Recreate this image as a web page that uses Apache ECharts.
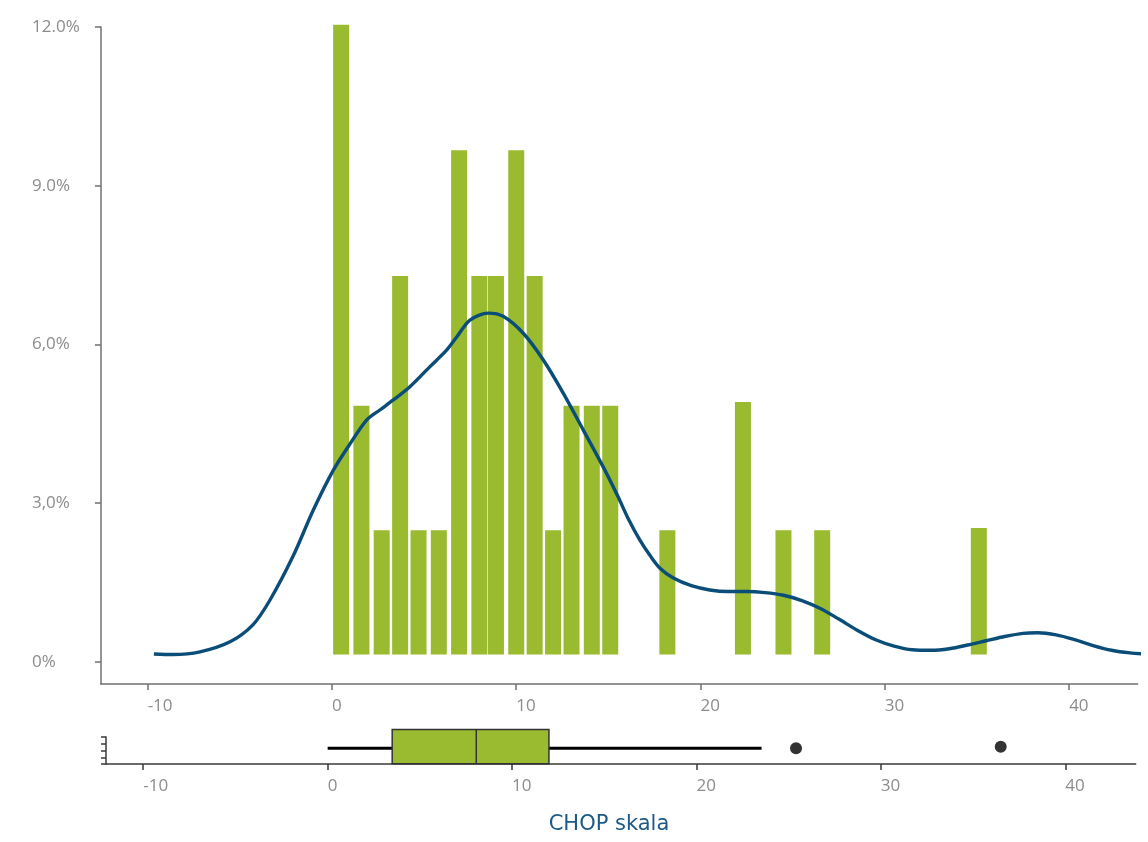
<!DOCTYPE html>
<html>
<head>
<meta charset="utf-8">
<script src="https://cdn.jsdelivr.net/npm/echarts@6/dist/echarts.min.js"></script>
<style>
  html, body { margin: 0; padding: 0; background: #ffffff; }
  #chart { width: 1148px; height: 842px; }
</style>
</head>
<body>
<div id="chart"></div>
<script>
// ---- data ----
const xTicks = [-10, 0, 10, 20, 30, 40];
const yTicks = [0, 3, 6, 9, 12];
const yTickLabels = ['0%', '3,0%', '6,0%', '9.0%', '12.0%'];

// histogram bars (bin centre, share in %)
const binCenters = [0.5, 1.6, 2.7, 3.7, 4.7, 5.8, 6.9, 8.0, 8.9, 10.0, 11.0, 12.0, 13.0, 14.1, 15.1, 18.2, 22.3, 24.5, 26.6, 35.1];
const binShares  = [11.9, 4.7, 2.35, 7.15, 2.35, 2.35, 9.53, 7.15, 7.15, 9.53, 7.15, 2.35, 4.7, 4.7, 4.7, 2.35, 4.77, 2.35, 2.35, 2.39];

// density curve
const kdeX = [-9.66, -8.63, -7.16, -5.53, -4.29, -3.36, -2.12, -1.01, 0.07, 0.98, 1.88, 2.6, 3.33, 4.23, 5.32, 6.22, 6.77, 7.49, 8.48, 9.29, 10.38, 11.46, 12.55, 13.64, 14.71, 15.5, 16.1, 16.71, 17.3, 17.8, 18.5, 19.5, 20.5, 21.5, 22.5, 23.5, 24.5, 25.5, 26.5, 27.5, 28.5, 29.5, 30.5, 31.5, 32.5, 33.5, 34.5, 35.5, 36.5, 37.5, 38.3, 39.3, 40.3, 41.3, 42.3, 43.3, 44.2];
const kdeY = [0.01, 0.0, 0.05, 0.24, 0.56, 1.03, 1.85, 2.73, 3.48, 3.98, 4.43, 4.62, 4.81, 5.06, 5.44, 5.75, 6.0, 6.32, 6.45, 6.39, 6.07, 5.57, 4.94, 4.24, 3.55, 3.0, 2.55, 2.16, 1.85, 1.63, 1.45, 1.3, 1.22, 1.19, 1.19, 1.17, 1.12, 1.02, 0.87, 0.67, 0.46, 0.28, 0.16, 0.09, 0.08, 0.11, 0.18, 0.26, 0.34, 0.40, 0.41, 0.37, 0.28, 0.17, 0.08, 0.03, 0.01];

// box plot statistics
const boxStats = [0, 3.5, 8.06, 12.0, 23.53]; // lower whisker, Q1, median, Q3, upper whisker
const outlierX = [25.4, 36.5];
const outlierY = [2.35, 2.55];

const xAxisTitle = 'CHOP skala';

// ---- chart ----
const GREEN = '#9aba30';
const BLUE = '#0b4d79';
const LABEL_GREY = '#8c8c8c';
const FONT = 'Open Sans';

const chart = echarts.init(document.getElementById('chart'), null, { renderer: 'canvas' });

const bars = binCenters.map((x, i) => [x, binShares[i]]);
const curve = kdeX.map((x, i) => [x, kdeY[i]]);
const outliers = outlierX.map((x, i) => [x, outlierY[i]]);

const topAxisLine = { show: true, onZero: false, lineStyle: { color: '#707070', width: 1.5 } };
const botAxisLine = { show: true, onZero: false, lineStyle: { color: '#3a3a3a', width: 1.5 } };

const option = {
  animation: false,
  backgroundColor: '#ffffff',
  grid: [
    { left: 101, right: 10.3, top: 27, height: 657 },
    { left: 106, right: 12.3, top: 737, height: 27 }
  ],
  xAxis: [
    {
      gridIndex: 0, type: 'value', min: -12.53, max: 43.72,
      axisLine: topAxisLine,
      axisTick: { show: true, length: 6, customValues: xTicks, lineStyle: { color: '#707070', width: 1.5 } },
      axisLabel: { customValues: xTicks, align: 'left', margin: 14, color: LABEL_GREY, fontSize: 17, fontFamily: FONT },
      splitLine: { show: false }
    },
    {
      gridIndex: 1, type: 'value', min: -12.02, max: 43.82,
      axisLine: botAxisLine,
      axisTick: { show: true, length: 6, customValues: xTicks, lineStyle: { color: '#3a3a3a', width: 1.5 } },
      axisLabel: { customValues: xTicks, align: 'left', margin: 14, color: LABEL_GREY, fontSize: 17, fontFamily: FONT },
      splitLine: { show: false }
    }
  ],
  yAxis: [
    {
      gridIndex: 0, type: 'value', min: -0.416, max: 12,
      axisLine: topAxisLine,
      axisTick: { show: true, length: 6, customValues: yTicks, lineStyle: { color: '#707070', width: 1.5 } },
      axisLabel: {
        customValues: yTicks, align: 'left', margin: 69, padding: [0, 0, 15, 0],
        color: LABEL_GREY, fontSize: 17, fontFamily: FONT,
        formatter: (v) => yTickLabels[yTicks.indexOf(v)]
      },
      splitLine: { show: false }
    },
    {
      gridIndex: 0, type: 'value', min: -0.557, max: 11.857, show: false
    },
    {
      gridIndex: 1, type: 'value', min: 0, max: 4, interval: 1,
      axisLine: botAxisLine,
      axisTick: { show: true, length: 5, lineStyle: { color: '#3a3a3a', width: 1.5 } },
      axisLabel: { show: false },
      splitLine: { show: false }
    }
  ],
  graphic: [
    {
      type: 'text', x: 609, y: 825,
      style: {
        text: xAxisTitle, align: 'center', verticalAlign: 'middle',
        fill: '#1d5a86', font: '21px "DejaVu Sans"'
      }
    }
  ],
  series: [
    {
      type: 'bar', xAxisIndex: 0, yAxisIndex: 1,
      data: bars, barWidth: 16, clip: false,
      itemStyle: { color: GREEN },
      z: 2
    },
    {
      type: 'line', xAxisIndex: 0, yAxisIndex: 1,
      data: curve, smooth: 0.3, showSymbol: false, clip: false,
      lineStyle: { color: BLUE, width: 3.4 },
      z: 3
    },
    {
      type: 'custom', xAxisIndex: 1, yAxisIndex: 2,
      data: [boxStats], clip: false,
      encode: { x: [0, 1, 2, 3, 4] },
      renderItem: function (params, api) {
        const yMid = 2.33, yBot = 0.05, yTop = 5.1;
        const lo = api.coord([api.value(0), yMid]);
        const q1 = api.coord([api.value(1), yMid]);
        const q3 = api.coord([api.value(3), yMid]);
        const hi = api.coord([api.value(4), yMid]);
        const medB = api.coord([api.value(2), yBot]);
        const medT = api.coord([api.value(2), yTop]);
        const q1T = api.coord([api.value(1), yTop]);
        const q3B = api.coord([api.value(3), yBot]);
        return {
          type: 'group',
          children: [
            { type: 'line', shape: { x1: lo[0], y1: lo[1], x2: q1[0], y2: q1[1] }, style: { stroke: '#000', lineWidth: 3 } },
            { type: 'line', shape: { x1: q3[0], y1: q3[1], x2: hi[0], y2: hi[1] }, style: { stroke: '#000', lineWidth: 3 } },
            { type: 'rect', shape: { x: q1T[0], y: q1T[1], width: q3B[0] - q1T[0], height: q3B[1] - q1T[1] }, style: { fill: GREEN, stroke: '#333', lineWidth: 1.5 } },
            { type: 'line', shape: { x1: medB[0], y1: medB[1], x2: medT[0], y2: medT[1] }, style: { stroke: '#333', lineWidth: 1.5 } }
          ]
        };
      }
    },
    {
      type: 'scatter', xAxisIndex: 1, yAxisIndex: 2,
      data: outliers, symbolSize: 12, clip: false,
      itemStyle: { color: '#000' }
    }
  ]
};

chart.setOption(option);
</script>
</body>
</html>
